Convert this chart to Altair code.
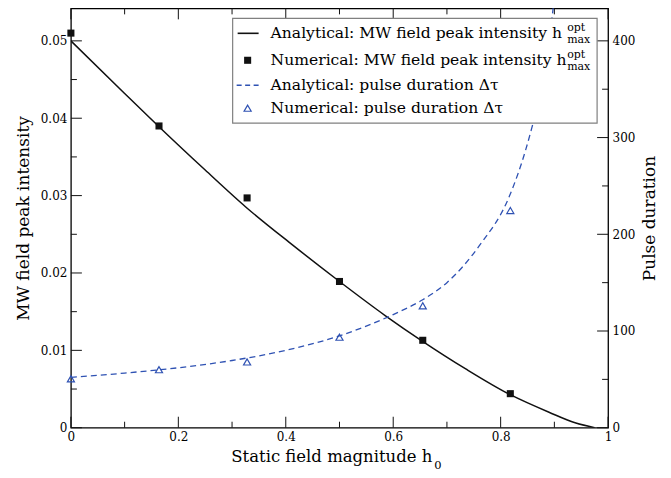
import altair as alt
import pandas as pd

# ---------------- data ----------------
h_mw_analytic = [0, 0.1, 0.164, 0.25, 0.326, 0.413, 0.5, 0.585, 0.654, 0.735, 0.817, 0.89, 0.94, 0.975]
mw_analytic = [0.0500, 0.0432, 0.0389, 0.0333, 0.0285, 0.0236, 0.0189, 0.0145, 0.0112, 0.0076, 0.0043, 0.0020, 0.0006, 0.0]

h_tau_analytic = [0, 0.1, 0.2, 0.3, 0.4, 0.5, 0.6, 0.654, 0.7, 0.76, 0.816, 0.847, 0.858, 0.88, 0.899, 0.91]
tau_analytic = [52, 56.5, 62, 69.5, 80, 95, 117, 132, 150, 188, 239, 288, 310, 360, 440, 500]

h_numeric = [0, 0.164, 0.328, 0.5, 0.655, 0.818]
mw_numeric = [0.0510, 0.0390, 0.0297, 0.0189, 0.0113, 0.0044]
tau_numeric = [50.6, 60, 68, 93.6, 126, 224.6]

x_major = [0, 0.2, 0.4, 0.6, 0.8, 1.0]
x_minor = [0.1, 0.3, 0.5, 0.7, 0.9]
yl_major = [0, 0.01, 0.02, 0.03, 0.04, 0.05]
yl_minor = [0.005, 0.015, 0.025, 0.035, 0.045]
yr_major = [0, 100, 200, 300, 400]
yr_minor = [50, 150, 250, 350]

legend_labels = [
    "Analytical: MW field peak intensity h",
    "Numerical: MW field peak intensity h",
    "Analytical: pulse duration \u0394\u03c4",
    "Numerical: pulse duration \u0394\u03c4",
]
x_title = "Static field magnitude h"
x_title_sub = "0"
y_left_title = "MW field peak intensity"
y_right_title = "Pulse duration"

# ---------------- styling ----------------
W, H = 538, 420
FONT = "DejaVu Serif"
BLUE = "#2f52b3"
BLACK = "#111111"

df_mw = pd.DataFrame({"h": h_mw_analytic, "v": mw_analytic})
df_tau = pd.DataFrame({"h": h_tau_analytic, "v": tau_analytic})
df_num = pd.DataFrame({"h": h_numeric, "mw": mw_numeric, "tau": tau_numeric})
one = pd.DataFrame({"k": [1]})

xscale = alt.Scale(domain=[0, 1], nice=False, zero=False)
lscale = alt.Scale(domain=[0, 0.0542], nice=False, zero=False)
rscale = alt.Scale(domain=[0, 433.6], nice=False, zero=False)

xaxis = alt.Axis(values=x_major, format="~g", title=None, labelFlush=False,
                 ticks=False, domain=False, grid=False, labelPadding=4)
laxis = alt.Axis(values=yl_major, format="~g", title=y_left_title, labelFlush=False,
                 ticks=False, domain=False, grid=False, labelPadding=4, titlePadding=8)
raxis = alt.Axis(values=yr_major, format="d", title=y_right_title, orient="right",
                 labelFlush=False, ticks=False, domain=False, grid=False,
                 labelPadding=4, titlePadding=7, titleAngle=270, titleBaseline="top")


def X(f):
    return alt.X(f, type="quantitative", scale=xscale, axis=xaxis)


def YL(f):
    return alt.Y(f, type="quantitative", scale=lscale, axis=laxis)


def YR(f):
    return alt.Y(f, type="quantitative", scale=rscale, axis=raxis)


def ticks_df(vals):
    return pd.DataFrame({"t": vals})


# ---------------- left group ----------------
mw_line = alt.Chart(df_mw).mark_line(color=BLACK, strokeWidth=1.5, clip=True,
                                     interpolate="monotone").encode(x=X("h"), y=YL("v"))
mw_pts = alt.Chart(df_num).mark_square(color=BLACK, size=50, opacity=1).encode(x=X("h"), y=YL("mw"))

left_major = alt.Chart(ticks_df(yl_major)).mark_rule(color=BLACK, strokeWidth=1).encode(
    y=YL("t"), x=alt.value(0), x2=alt.value(11))
left_minor = alt.Chart(ticks_df(yl_minor)).mark_rule(color=BLACK, strokeWidth=1).encode(
    y=YL("t"), x=alt.value(0), x2=alt.value(6))
bot_major = alt.Chart(ticks_df(x_major)).mark_rule(color=BLACK, strokeWidth=1).encode(
    x=X("t"), y=alt.value(H - 11), y2=alt.value(H))
bot_minor = alt.Chart(ticks_df(x_minor)).mark_rule(color=BLACK, strokeWidth=1).encode(
    x=X("t"), y=alt.value(H - 6), y2=alt.value(H))
top_major = alt.Chart(ticks_df(x_major)).mark_rule(color=BLACK, strokeWidth=1).encode(
    x=X("t"), y=alt.value(0), y2=alt.value(11))
top_minor = alt.Chart(ticks_df(x_minor)).mark_rule(color=BLACK, strokeWidth=1).encode(
    x=X("t"), y=alt.value(0), y2=alt.value(6))

left = alt.layer(mw_line, mw_pts, left_major, left_minor, bot_major, bot_minor, top_major, top_minor)

# ---------------- right group ----------------
tau_line = alt.Chart(df_tau).mark_line(color=BLUE, strokeWidth=1.3, strokeDash=[6, 4], clip=True,
                                       interpolate="monotone").encode(x=X("h"), y=YR("v"))
tau_pts = alt.Chart(df_num).mark_point(shape="triangle-up", filled=False, color=BLUE, size=50,
                                       strokeWidth=1.2, opacity=1).encode(x=X("h"), y=YR("tau"))
right_major = alt.Chart(ticks_df(yr_major)).mark_rule(color=BLACK, strokeWidth=1).encode(
    y=YR("t"), x=alt.value(W - 11), x2=alt.value(W))
right_minor = alt.Chart(ticks_df(yr_minor)).mark_rule(color=BLACK, strokeWidth=1).encode(
    y=YR("t"), x=alt.value(W - 6), x2=alt.value(W))

right = alt.layer(tau_line, tau_pts, right_major, right_minor)

# ---------------- legend & x title (drawn by hand for sub/superscripts) ----------------
row_y = [25, 52, 77, 100]
box = alt.Chart(one).mark_rect(fill="white", stroke="#808080", strokeWidth=1.2).encode(
    x=alt.value(162), x2=alt.value(527), y=alt.value(10), y2=alt.value(115))
sym_line = alt.Chart(one).mark_rule(color=BLACK, strokeWidth=1.6).encode(
    x=alt.value(167), x2=alt.value(188), y=alt.value(row_y[0]))
sym_sq = alt.Chart(one).mark_square(color=BLACK, size=50, opacity=1).encode(
    x=alt.value(177), y=alt.value(row_y[1]))
sym_dash = alt.Chart(one).mark_rule(color=BLUE, strokeWidth=1.3, strokeDash=[5, 3.5]).encode(
    x=alt.value(166), x2=alt.value(190), y=alt.value(row_y[2]))
sym_tri = alt.Chart(one).mark_point(shape="triangle-up", filled=False, color=BLUE, size=50,
                                    strokeWidth=1.2, opacity=1).encode(
    x=alt.value(177), y=alt.value(row_y[3]))

legend_layers = [box, sym_line, sym_sq, sym_dash, sym_tri]
for lab, yy in zip(legend_labels, row_y):
    legend_layers.append(
        alt.Chart(one).mark_text(text=lab, font=FONT, fontSize=15.6, align="left",
                                 baseline="middle", color="black").encode(
            x=alt.value(200), y=alt.value(yy)))
for yy in row_y[:2]:
    legend_layers.append(
        alt.Chart(one).mark_text(text="opt", font=FONT, fontSize=11, align="left",
                                 baseline="middle", color="black").encode(
            x=alt.value(497), y=alt.value(yy - 5)))
    legend_layers.append(
        alt.Chart(one).mark_text(text="max", font=FONT, fontSize=11, align="left",
                                 baseline="middle", color="black").encode(
            x=alt.value(497), y=alt.value(yy + 7)))

xt_main = alt.Chart(one).mark_text(text=x_title, font=FONT, fontSize=16.5, align="right",
                                   baseline="alphabetic", color="black").encode(
    x=alt.value(362), y=alt.value(454))
xt_sub = alt.Chart(one).mark_text(text=x_title_sub, font=FONT, fontSize=11.5, align="left",
                                  baseline="alphabetic", color="black").encode(
    x=alt.value(364), y=alt.value(461))

decor = alt.layer(*legend_layers, xt_main, xt_sub)

chart = alt.layer(left, right, decor).resolve_scale(y="independent").properties(
    width=W, height=H,
    autosize=alt.AutoSizeParams(type="none"),
    padding={"left": 63, "top": 0, "right": 55, "bottom": 50},
    background="white",
).configure_view(stroke="black", strokeWidth=1.3).configure_axis(
    labelFont=FONT, labelFontSize=12, labelColor="black",
    titleFont=FONT, titleFontSize=17, titleFontWeight="normal", titleColor="black",
)

chart.save("out.html", embed_options={"renderer": "svg", "actions": False})
